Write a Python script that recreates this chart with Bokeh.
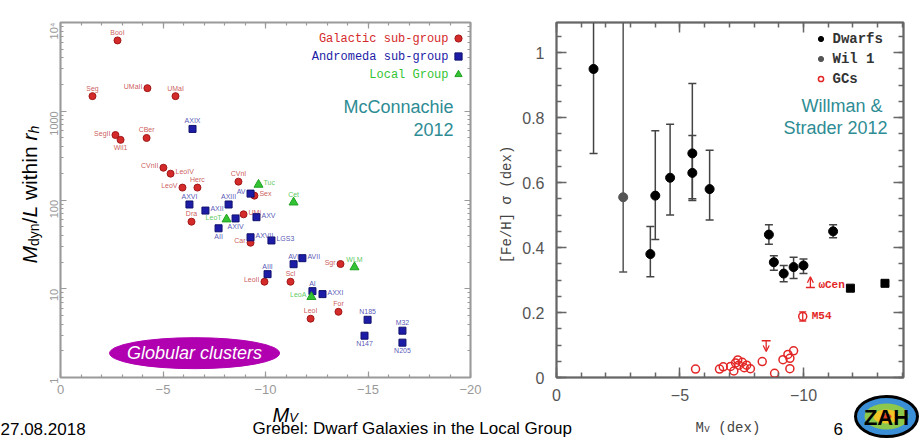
import math
from bokeh.plotting import figure
from bokeh.models import (Range1d, FixedTicker, LinearAxis, LogAxis, Label, Legend, LegendItem,
                          ColumnDataSource, CustomJSTickFormatter, Arrow, OpenHead)
from bokeh.layouts import row, column
from bokeh.embed import file_html
from bokeh.resources import INLINE
from bokeh.core.properties import value

SANS = "Liberation Sans"
MONO = "Liberation Mono"

# ---------------- left panel: McConnachie 2012 (M_dyn/L vs M_V) ----------------
gal_names = ["BooI", "Seg", "UMaII", "UMaI", "SegII", "Wil1", "CBer", "CVnII", "LeoIV", "LeoV", "Herc",
             "CVnI", "Dra", "UMi", "Sex", "Car", "LeoII", "Scl", "Sgr", "LeoI", "For"]
gal_mv = [-2.78, -1.56, -4.24, -5.61, -2.68, -2.93, -4.20, -5.02, -5.37, -5.95, -6.68,
          -8.68, -6.39, -8.93, -9.46, -9.27, -9.95, -11.22, -13.66, -12.20, -13.56]
gal_ml = [6280, 1480, 1820, 1480, 540, 476, 500, 231, 198, 138, 138,
          161, 57, 69, 112, 33, 12, 12, 19, 4.6, 5.5]
gal_place = ["a", "a", "l", "a", "l", "b", "a", "l", "r", "l", "a",
             "a", "a", "r", "r", "l", "l", "a", "l", "a", "a"]

and_names = ["AXIX", "AXVI", "AXII", "AXIII", "AV", "AII", "AXIV", "AXV", "AXVII", "LGS3", "AVI",
             "AVII", "AIII", "AI", "AXXI", "N185", "N147", "M32", "N205"]
and_mv = [-6.44, -6.29, -7.07, -8.20, -9.27, -7.71, -8.54, -9.56, -9.27, -10.29, -11.37,
          -11.80, -10.10, -12.29, -12.78, -14.98, -14.83, -16.68, -16.68]
and_ml = [632, 89, 76, 89, 118, 48, 62, 64, 38, 35, 18.9,
          22.1, 14.6, 9.4, 8.7, 4.47, 2.96, 3.37, 2.47]
and_place = ["a", "a", "r", "a", "l", "b", "b", "r", "r", "r", "a",
             "r", "a", "a", "r", "a", "b", "a", "b"]

lg_names = ["Tuc", "Cet", "LeoT", "WLM", "LeoA"]
lg_mv = [-9.66, -11.37, -8.10, -14.34, -12.24]
lg_ml = [149, 94, 60.6, 17.5, 8.1]
lg_place = ["r", "a", "l", "a", "l"]

legend_left_labels = ["Galactic sub-group", "Andromeda sub-group", "Local Group"]

# ---------------- right panel: Willman & Strader 2012 ----------------
dw_mv = [-1.5, -3.8, -4.0, -4.6, -5.5, -5.5, -6.2, -8.6, -8.8, -9.2, -9.6, -10.0, -11.2]
dw_sig = [0.95, 0.38, 0.56, 0.615, 0.69, 0.63, 0.58, 0.44, 0.355, 0.32, 0.34, 0.345, 0.45]
dw_lo = [0.69, 0.31, 0.425, 0.50, 0.55, 0.545, 0.485, 0.41, 0.33, 0.295, 0.305, 0.32, 0.43]
dw_hi = [1.25, 0.465, 0.76, 0.78, 0.905, 0.745, 0.70, 0.47, 0.375, 0.345, 0.37, 0.365, 0.47]

wil_mv = [-2.7]
wil_sig = [0.555]
wil_lo = [0.325]
wil_hi = [1.30]

big_mv = [-11.9, -13.3]
big_sig = [0.275, 0.29]

gc_mv = [-5.63, -6.6, -6.75, -7.05, -7.18, -7.25, -7.34, -7.38, -7.52, -7.6, -7.7, -7.85,
         -8.33, -8.83, -9.17, -9.37, -9.45, -9.45, -9.6]
gc_sig = [0.026, 0.026, 0.033, 0.034, 0.02, 0.045, 0.054, 0.038, 0.047, 0.03, 0.038, 0.027,
          0.049, 0.013, 0.055, 0.071, 0.059, 0.027, 0.082]

m54_mv = [-9.97]
m54_sig = [0.188]
m54_lo = [0.174]
m54_hi = [0.202]

lim_mv = [-8.49, -10.28]        # upper limit, omega Cen lower limit
lim_from = [0.113, 0.277]
lim_to = [0.08, 0.31]
lim_names = ["", "\u03c9Cen"]

# ---------------- ticks ----------------
left_x_major = [0, -5, -10, -15, -20]
left_x_labels = ["0", "\u22125", "\u221210", "\u221215", "\u221220"]
left_x_minor = list(range(0, -21, -1))
left_y_major = [1, 10, 100, 1000, 10000]
left_y_labels = ["1", "10", "100", "1000", "10\u2074"]
left_y_minor = [m * 10 ** k for k in range(4) for m in range(2, 10)]

right_x_major = [0, -5, -10]
right_x_labels = ["0", "\u22125", "\u221210"]
right_x_minor = list(range(0, -15, -1))
right_y_major = [0, 0.2, 0.4, 0.6, 0.8, 1.0]
right_y_labels = ["0", "0.2", "0.4", "0.6", "0.8", "1"]
right_y_minor = [round(0.05 * i, 2) for i in range(22)]

RED = "#d42a2a"
BLUE = "#1c1ca6"
GREEN = "#33c433"
TEAL = "#2e8c94"
A = math.pi / 2


def fmt(tv, tl):
    return CustomJSTickFormatter(args=dict(tv=tv, tl=tl),
                                 code="const i = tv.indexOf(tick); return i >= 0 ? tl[i] : '';")


def blank():
    return CustomJSTickFormatter(code="return '';")


def style_axis(ax, color, maj, mnr, lw, fsize, fcolor, standoff, font=SANS):
    ax.axis_line_color = color
    ax.axis_line_width = lw
    ax.major_tick_in = maj
    ax.major_tick_out = 0
    ax.minor_tick_in = mnr
    ax.minor_tick_out = 0
    ax.major_tick_line_color = color
    ax.minor_tick_line_color = color
    ax.major_tick_line_width = lw
    ax.minor_tick_line_width = lw
    ax.major_label_text_font_size = fsize
    ax.major_label_text_color = fcolor
    ax.major_label_text_font = font
    ax.major_label_standoff = standoff


def lab(p, text, x, y, size, style="normal", font=SANS, color="black", angle=0.0,
        align="left", baseline="alphabetic", units="screen"):
    p.add_layout(Label(x=x, y=y, x_units=units, y_units=units, text=text,
                       text_font_size=f"{size}px", text_font_style=style, text_font=font,
                       text_color=color, angle=angle, text_align=align, text_baseline=baseline))


OFF = {"a": (0, -8, "center"), "b": (0, 8, "center"), "l": (-5, -2, "right"), "r": (5, -2, "left")}

# ======================= BACKGROUND (slide texts) =======================
bg = figure(width=922, height=438, x_range=Range1d(0, 922), y_range=Range1d(438, 0),
            min_border=0, toolbar_location=None, output_backend="svg",
            x_axis_location=None, y_axis_location=None, title_location=None)
bg.grid.visible = False
bg.outline_line_color = None
bg.background_fill_alpha = 0
bg.border_fill_alpha = 0

# left y-axis label  M_dyn/L within r_h  (rotated, composed)
lab(bg, "M", 29, 263, 21, style="italic", angle=A, units="data")
lab(bg, "dyn", 33, 245.5, 14, angle=A, units="data")
lab(bg, "/", 29, 222.9, 21, angle=A, units="data")
lab(bg, "L", 29, 217.1, 21, style="italic", angle=A, units="data")
lab(bg, "within", 29, 199.6, 21, angle=A, units="data")
lab(bg, "r", 29, 140.1, 21, style="italic", angle=A, units="data")
lab(bg, "h", 33, 133.1, 14, style="italic", angle=A, units="data")
# left x-axis label M_V
lab(bg, "M", 272, 414, 20, style="italic", units="data")
lab(bg, "V", 288.7, 417, 13, style="italic", units="data")
# right axis labels
lab(bg, "[Fe/H] \u03c3 (dex)", 506, 204, 14, font=MONO, color="#444444", angle=A, align="center",
    units="data")
lab(bg, "M", 695, 427, 14, font=MONO, color="#444444", units="data")
lab(bg, "v", 703.4, 429, 10, font=MONO, color="#444444", units="data")
lab(bg, "(dex)", 717.8, 427, 14, font=MONO, color="#444444", units="data")
# footer
lab(bg, "27.08.2018", 0, 428, 17, units="data")
lab(bg, "Grebel:  Dwarf Galaxies in the Local Group", 252, 428, 17, units="data")
lab(bg, "6", 833, 428, 17, units="data")
# ZAH logo
logo_x = [886]
logo_y = [416]
bg.ellipse(x=logo_x, y=logo_y, width=62, height=40, fill_color="#3b8fd6", line_color="black", line_width=3)
bg.ellipse(x=logo_x, y=logo_y, width=44, height=26, fill_color="#8cc84b", line_color=None)
bg.ellipse(x=logo_x, y=logo_y, width=26, height=14, fill_color="#f2c526", line_color=None)
bg.ellipse(x=logo_x, y=logo_y, width=10, height=6, fill_color="#e0452a", line_color=None)
lab(bg, "ZAH", 886, 417, 22, style="bold", align="center", baseline="middle", units="data")

# ======================= LEFT FIGURE =======================
p1 = figure(width=495, height=438, y_axis_type="log", x_range=Range1d(0, -20), y_range=Range1d(1, 1e4),
            min_border_left=60, min_border_right=25, min_border_top=20, min_border_bottom=61,
            toolbar_location=None, output_backend="svg", title_location=None)
p1.grid.visible = False
p1.outline_line_color = "#9a9a9a"
p1.outline_line_width = 2
p1.border_fill_alpha = 0

LG = "#9a9a9a"
xa = p1.xaxis[0]
xa.ticker = FixedTicker(ticks=left_x_major, minor_ticks=left_x_minor)
xa.formatter = fmt(left_x_major, left_x_labels)
style_axis(xa, LG, 6, 3, 1.2, "13px", LG, 7)
ya = p1.yaxis[0]
ya.ticker = FixedTicker(ticks=left_y_major, minor_ticks=left_y_minor)
ya.formatter = fmt(left_y_major, left_y_labels)
ya.major_label_orientation = math.pi / 2
style_axis(ya, LG, 6, 3, 1.2, "11px", LG, 7)
ax_top = LinearAxis(ticker=FixedTicker(ticks=left_x_major, minor_ticks=left_x_minor), formatter=blank())
style_axis(ax_top, LG, 6, 3, 1.2, "10px", LG, 0)
p1.add_layout(ax_top, "above")
ax_right = LogAxis(ticker=FixedTicker(ticks=left_y_major, minor_ticks=left_y_minor), formatter=blank())
style_axis(ax_right, LG, 6, 3, 1.2, "10px", LG, 0)
p1.add_layout(ax_right, "right")


def add_group(p, names, mv, ml, places, fill, line, txtcol, marker, size):
    src = ColumnDataSource(dict(x=mv, y=ml, name=names,
                                dx=[OFF[k][0] for k in places],
                                dy=[OFF[k][1] for k in places],
                                al=[OFF[k][2] for k in places]))
    r = p.scatter("x", "y", source=src, marker=marker, size=size, fill_color=fill, line_color=line)
    p.text("x", "y", text="name", source=src, x_offset="dx", y_offset="dy", text_align="al",
           text_baseline="middle", text_font_size="7px", text_color=txtcol, text_alpha=0.85,
           text_font=value(SANS))
    return r


r_gal = add_group(p1, gal_names, gal_mv, gal_ml, gal_place, RED, "#a01818", "#c23a3a", "circle", 7)
r_and = add_group(p1, and_names, and_mv, and_ml, and_place, BLUE, "#10106e", "#3535a8", "square", 7)
r_lg = add_group(p1, lg_names, lg_mv, lg_ml, lg_place, GREEN, "#22a022", "#3cc03c", "triangle", 9)

leg1 = Legend(items=[LegendItem(label=value(" "), renderers=[r]) for r in (r_gal, r_and, r_lg)],
              location=(389, 294), padding=0, margin=0, spacing=0, glyph_width=18, glyph_height=18,
              label_height=18, label_width=1, label_standoff=0, border_line_alpha=0,
              background_fill_alpha=0, label_text_font_size="8px")
p1.add_layout(leg1)
for txt, col, yy in zip(legend_left_labels, [RED, BLUE, GREEN], [339, 321, 303]):
    lab(p1, txt, 388, yy, 12, font=MONO, color=col, align="right", baseline="middle")

# McConnachie 2012
lab(p1, "McConnachie", 393, 271, 18, color=TEAL, align="right")
lab(p1, "2012", 393, 248, 18, color=TEAL, align="right")

# Globular clusters ellipse
gc_box_mv = -6.54
gc_box_ml = 1.88
p1.ellipse(x=[gc_box_mv], y=[gc_box_ml], width=170, height=31, width_units="screen",
           height_units="screen", fill_color="#b000b0", line_color="#b000b0")
lab(p1, "Globular clusters", gc_box_mv, gc_box_ml, 18, style="italic", color="white",
    align="center", baseline="middle", units="data")

# ======================= RIGHT FIGURE =======================
p2 = figure(width=427, height=438, x_range=Range1d(0, -14.05), y_range=Range1d(0, 1.093),
            min_border_left=61, min_border_right=19, min_border_top=22, min_border_bottom=57,
            toolbar_location=None, output_backend="svg", title_location=None)
p2.grid.visible = False
p2.outline_line_color = "#666666"
p2.outline_line_width = 2
p2.border_fill_alpha = 0
DG = "#666666"
bx = p2.xaxis[0]
bx.ticker = FixedTicker(ticks=right_x_major, minor_ticks=right_x_minor)
bx.formatter = fmt(right_x_major, right_x_labels)
style_axis(bx, DG, 10, 5, 1.5, "16px", "#555555", 11)
by = p2.yaxis[0]
by.ticker = FixedTicker(ticks=right_y_major, minor_ticks=right_y_minor)
by.formatter = fmt(right_y_major, right_y_labels)
style_axis(by, DG, 10, 5, 1.5, "16px", "#555555", 12)
t2 = LinearAxis(ticker=FixedTicker(ticks=right_x_major, minor_ticks=right_x_minor), formatter=blank())
style_axis(t2, DG, 10, 5, 1.5, "10px", DG, 0)
p2.add_layout(t2, "above")
r2 = LinearAxis(ticker=FixedTicker(ticks=right_y_major, minor_ticks=right_y_minor), formatter=blank())
style_axis(r2, DG, 10, 5, 1.5, "10px", DG, 0)
p2.add_layout(r2, "right")

EB = "#444444"
GCC = "#e32626"
# dwarfs error bars
p2.segment(x0=dw_mv, y0=dw_lo, x1=dw_mv, y1=dw_hi, line_color=EB, line_width=1.5)
p2.scatter(dw_mv, dw_lo, marker="dash", size=8, line_color=EB, line_width=1.5)
p2.scatter(dw_mv, dw_hi, marker="dash", size=8, line_color=EB, line_width=1.5)
# Wil 1 error bar
p2.segment(x0=wil_mv, y0=wil_lo, x1=wil_mv, y1=wil_hi, line_color="#555555", line_width=1.5)
p2.scatter(wil_mv, wil_lo, marker="dash", size=8, line_color="#555555", line_width=1.5)
r_wil = p2.scatter(wil_mv, wil_sig, marker="circle", size=9, fill_color="#555555", line_color="#555555")
r_dw = p2.scatter(dw_mv, dw_sig, marker="circle", size=9, fill_color="black", line_color="black")
p2.scatter(big_mv, big_sig, marker="square", size=8, fill_color="black", line_color="black")

# GCs
r_gc = p2.scatter(gc_mv, gc_sig, marker="circle", size=8, fill_color=None, line_color=GCC,
                  line_width=1.5)
p2.segment(x0=m54_mv, y0=m54_lo, x1=m54_mv, y1=m54_hi, line_color=GCC, line_width=1.3)
p2.scatter(m54_mv, m54_lo, marker="dash", size=7, line_color=GCC, line_width=1.3)
p2.scatter(m54_mv, m54_hi, marker="dash", size=7, line_color=GCC, line_width=1.3)
p2.scatter(m54_mv, m54_sig, marker="circle", size=8, fill_color=None, line_color=GCC, line_width=1.5)
p2.text(x=m54_mv, y=m54_sig, text=["M54"], x_offset=9, text_baseline="middle", text_font_size="11px",
        text_font=value(MONO), text_font_style="bold", text_color=GCC)

lim_src = ColumnDataSource(dict(x=lim_mv, y0=lim_from, y1=lim_to, name=lim_names))
p2.add_layout(Arrow(end=OpenHead(size=6, line_color=GCC, line_width=1.3),
                    x_start="x", y_start="y0", x_end="x", y_end="y1", source=lim_src,
                    line_color=GCC, line_width=1.3))
p2.scatter("x", "y0", source=lim_src, marker="dash", size=9, line_color=GCC, line_width=1.5)
p2.text("x", "y0", text="name", source=lim_src, x_offset=8, y_offset=-3, text_baseline="middle",
        text_font_size="11px", text_font=value(MONO), text_font_style="bold", text_color=GCC)

leg2 = Legend(items=[("Dwarfs", [r_dw]), ("Wil 1", [r_wil]), ("GCs", [r_gc])],
              location=(257.5, 290.5), padding=0, margin=0, spacing=4, glyph_width=13, glyph_height=13,
              label_height=13, label_standoff=6, border_line_alpha=0, background_fill_alpha=0,
              label_text_font=MONO, label_text_font_style="bold", label_text_font_size="14px",
              label_text_color="#333333")
p2.add_layout(leg2)

lab(p2, "Willman &", 326, 271.5, 18, color=TEAL, align="right")
lab(p2, "Strader 2012", 331, 249.5, 18, color=TEAL, align="right")

charts = row(p1, p2)
charts.margin = (-438, 0, 0, 0)
layout = column(bg, charts)
open("out.html", "w").write(file_html(layout, INLINE))
